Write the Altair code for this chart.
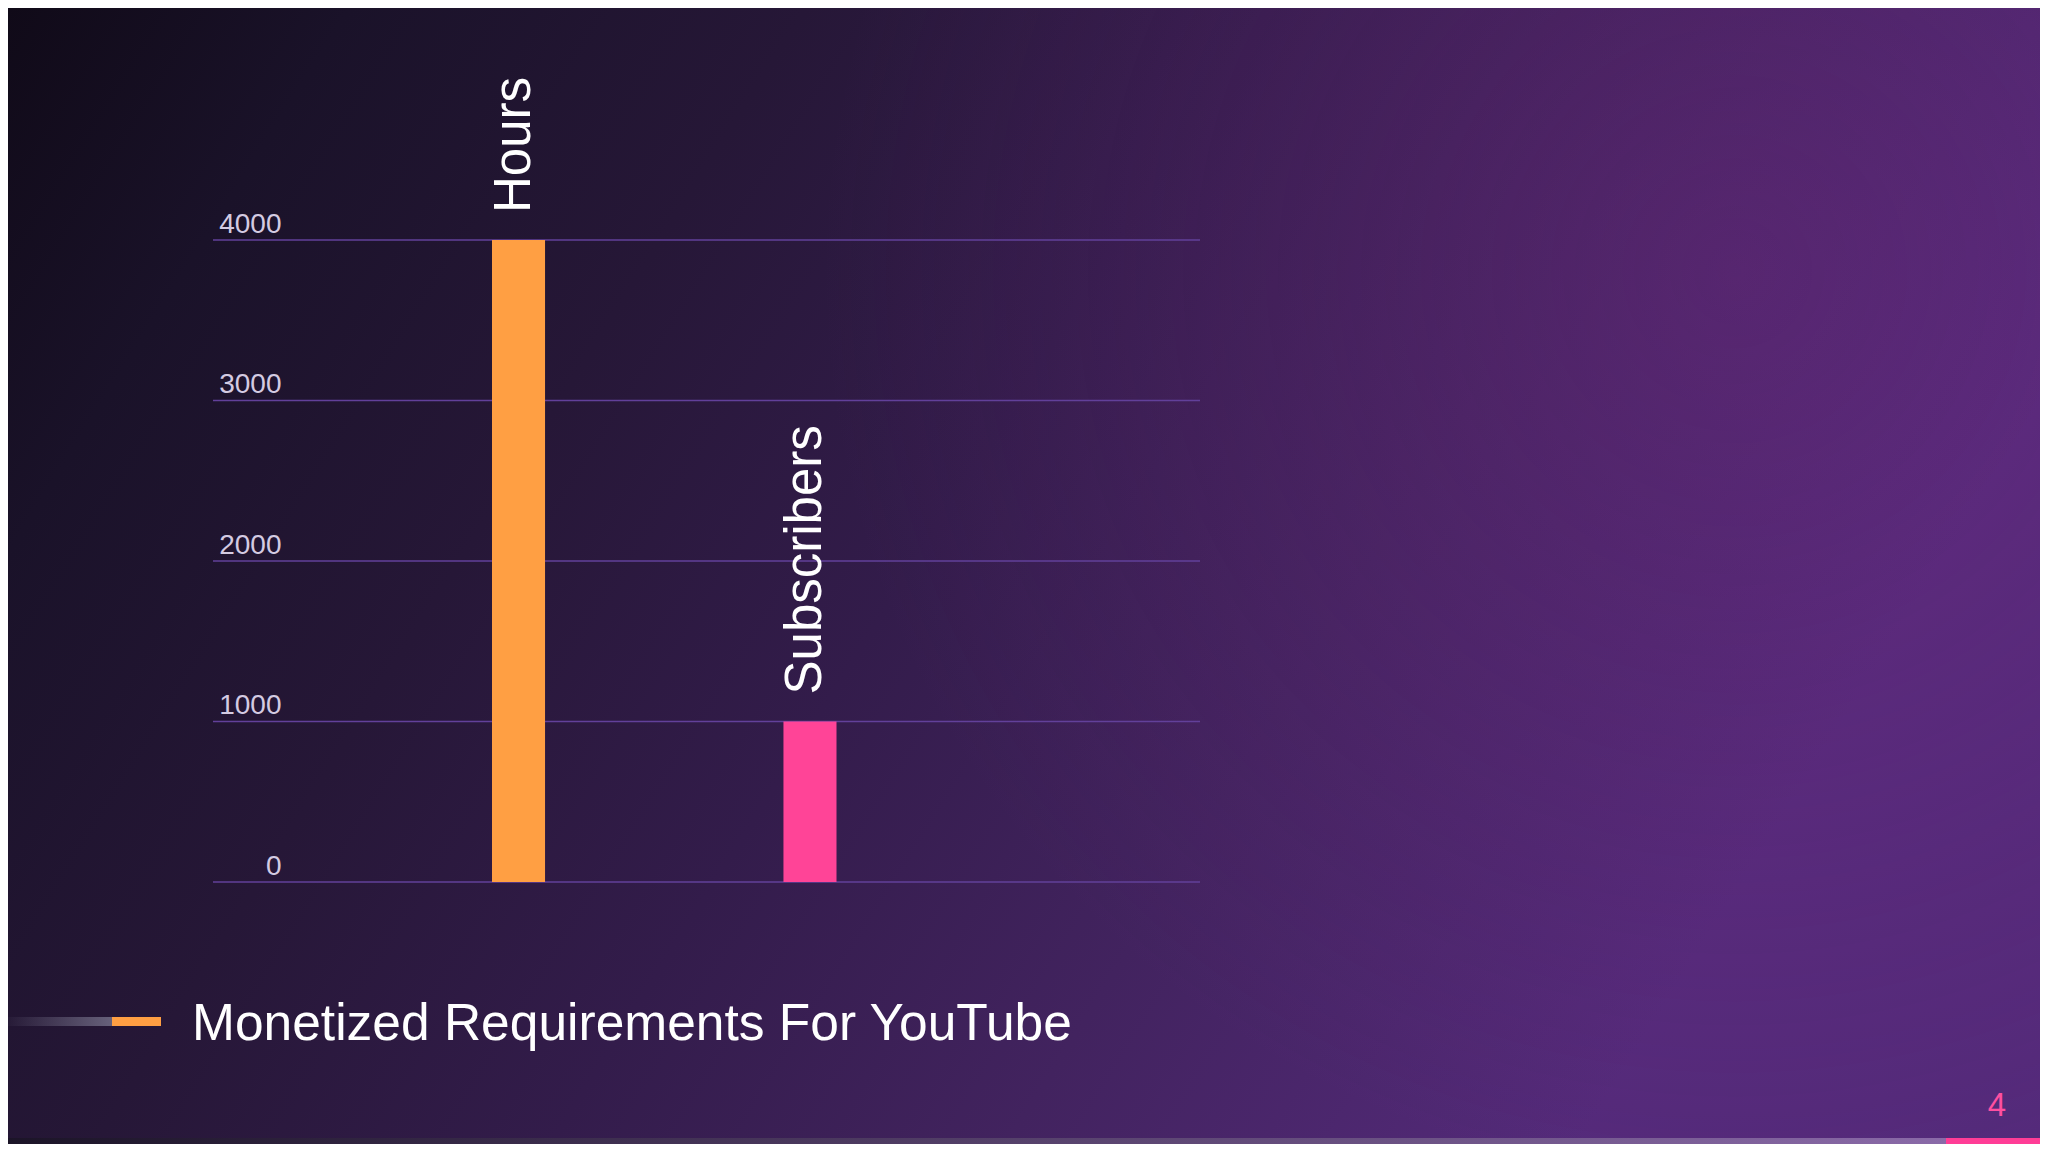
import altair as alt
import pandas as pd

# ---- data ----
categories = ["Hours", "Subscribers"]
values = [4000, 1000]
bar_colors = ["#FF9F43", "#FF4497"]
y_ticks = [0, 1000, 2000, 3000, 4000]
title_text = "Monetized Requirements For YouTube"
page_number = "4"

df = pd.DataFrame({"cat": categories, "value": values})
tick_df = pd.DataFrame({"tick": y_ticks})
one = pd.DataFrame({"k": [0]})

W, H = 987, 642
PL, PT = 205, 232
TOTAL_W, TOTAL_H = 2032, 1136
PR = TOTAL_W - PL - W
PB = TOTAL_H - PT - H

# background
bg_grad = alt.Gradient(
    gradient="linear", x1=0, y1=0, x2=1, y2=0.35,
    stops=[
        alt.GradientStop(color="#100a18", offset=0.0),
        alt.GradientStop(color="#1a1229", offset=0.15),
        alt.GradientStop(color="#261737", offset=0.35),
        alt.GradientStop(color="#331c4b", offset=0.55),
        alt.GradientStop(color="#42235f", offset=0.75),
        alt.GradientStop(color="#542a7a", offset=1.0),
    ],
)
background = alt.Chart(one).mark_rect(fill=bg_grad, strokeWidth=0).encode(
    x=alt.value(-PL), x2=alt.value(W + PR), y=alt.value(-PT), y2=alt.value(H + PB)
)
glow_grad = alt.Gradient(
    gradient="radial", x1=0.85, y1=0.35, r1=0, x2=0.85, y2=0.35, r2=0.45,
    stops=[
        alt.GradientStop(color="rgba(120,40,130,0.30)", offset=0.0),
        alt.GradientStop(color="rgba(120,40,130,0.0)", offset=1.0),
    ],
)
glow = alt.Chart(one).mark_rect(fill=glow_grad, strokeWidth=0).encode(
    x=alt.value(-PL), x2=alt.value(W + PR), y=alt.value(-PT), y2=alt.value(H + PB)
)

xscale = alt.Scale(domain=categories, paddingInner=0.818, paddingOuter=0, range=[279, 623.5])
yscale = alt.Scale(domain=[0, 4000], nice=False)
yaxis = alt.Axis(
    values=y_ticks, format="d", grid=False, domain=False, ticks=False, title=None,
    labelPadding=-68, labelAlign="right", labelBaseline="alphabetic",
    labelOffset=-8, labelFontSize=28, labelFont="Liberation Sans",
    labelColor="#d4cbe2", labelFlush=False, zindex=2,
)

grid = alt.Chart(tick_df).mark_rule(color="#62409a", strokeWidth=1.5).encode(
    y=alt.Y("tick:Q", scale=yscale, axis=yaxis),
    x=alt.value(0), x2=alt.value(W),
)

bars = alt.Chart(df).mark_bar().encode(
    x=alt.X("cat:N", scale=xscale, axis=None, sort=None),
    y=alt.Y("value:Q", scale=yscale, axis=yaxis),
    color=alt.Color("cat:N", scale=alt.Scale(domain=categories, range=bar_colors), legend=None),
)

labels = alt.Chart(df).mark_text(
    angle=270, align="left", baseline="alphabetic", dx=27, dy=11,
    fontSize=51, font="Liberation Sans", color="white",
).encode(
    x=alt.X("cat:N", scale=xscale, sort=None, axis=None),
    y=alt.Y("value:Q", scale=yscale, axis=yaxis),
    text="cat:N",
)

title_df = pd.DataFrame({"t": [title_text]})
title = alt.Chart(title_df).mark_text(
    align="left", baseline="alphabetic", fontSize=51.5, font="Liberation Sans", color="white"
).encode(x=alt.value(-21), y=alt.value(800), text="t:N")

deco_grad = alt.Gradient(
    gradient="linear", x1=0, y1=0, x2=1, y2=0,
    stops=[
        alt.GradientStop(color="rgba(110,105,130,0.0)", offset=0.0),
        alt.GradientStop(color="rgba(110,105,130,0.9)", offset=1.0),
    ],
)
deco_gray = alt.Chart(one).mark_rect(fill=deco_grad).encode(
    x=alt.value(-213), x2=alt.value(-101), y=alt.value(777), y2=alt.value(786)
)
deco_orange = alt.Chart(one).mark_rect(fill="#FF9F43").encode(
    x=alt.value(-101), x2=alt.value(-52), y=alt.value(777), y2=alt.value(786)
)

page_df = pd.DataFrame({"p": [page_number]})
page = alt.Chart(page_df).mark_text(
    align="center", baseline="alphabetic", fontSize=33, font="Liberation Sans", color="#ff4fa0"
).encode(x=alt.value(1784), y=alt.value(876), text="p:N")

strip_grad = alt.Gradient(
    gradient="linear", x1=0, y1=0, x2=1, y2=0,
    stops=[
        alt.GradientStop(color="#1b1427", offset=0.0),
        alt.GradientStop(color="#8a6aa8", offset=1.0),
    ],
)
strip = alt.Chart(one).mark_rect(fill=strip_grad).encode(
    x=alt.value(-213), x2=alt.value(1733), y=alt.value(898), y2=alt.value(912)
)
strip_pink = alt.Chart(one).mark_rect(fill="#ff3d96").encode(
    x=alt.value(1733), x2=alt.value(1835), y=alt.value(898), y2=alt.value(912)
)

chart = alt.layer(
    background, glow, grid, bars, labels, title, deco_gray, deco_orange, page, strip, strip_pink
).resolve_scale(color="independent").properties(
    width=W, height=H,
    autosize=alt.AutoSizeParams(type="none"),
    padding={"left": PL, "top": PT, "right": PR, "bottom": PB},
    background="#100a18",
).configure_view(stroke=None)

chart.save("out.html", embed_options={"renderer": "svg", "actions": False})
